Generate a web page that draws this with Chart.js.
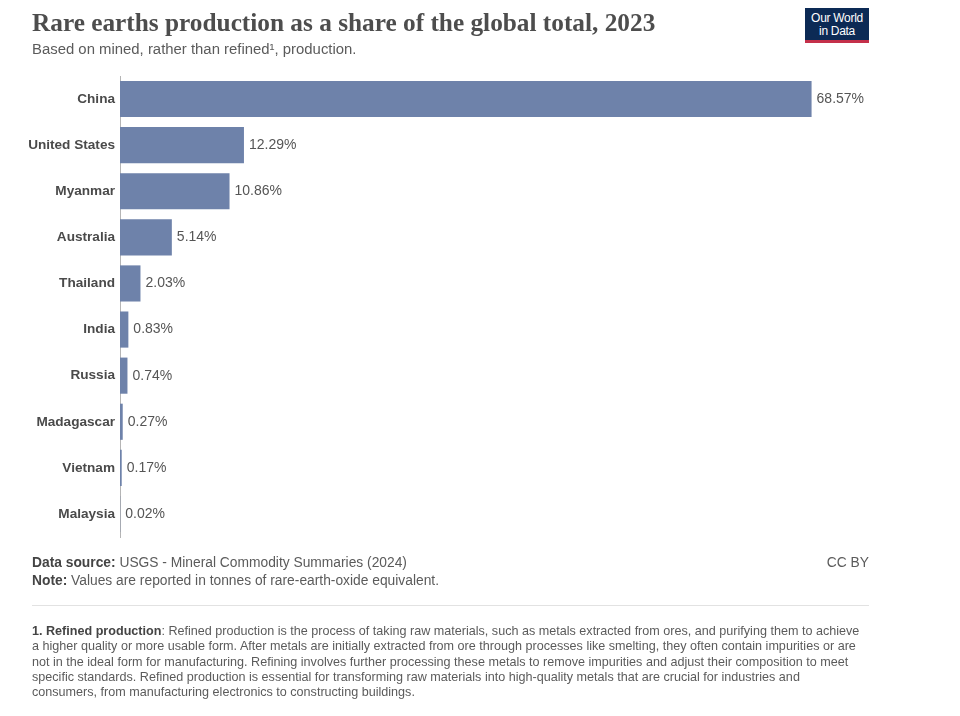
<!DOCTYPE html>
<html>
<head>
<meta charset="utf-8">
<script src="https://cdn.jsdelivr.net/npm/chart.js@4/dist/chart.umd.min.js"></script>
<style>
  html, body { margin: 0; padding: 0; background: #fff; }
  body { width: 960px; height: 716px; position: relative; overflow: hidden; font-family: "Liberation Sans", Arial, sans-serif; }
  #chartBox { position: absolute; left: 0; top: 0; width: 960px; height: 716px; }
  .abs { position: absolute; white-space: nowrap; }
  #title { left: 32px; top: 8px; font-family: "Liberation Serif", "DejaVu Serif", serif; font-weight: bold; font-size: 25.3px; color: #4d4d4d; }
  #subtitle { left: 32px; top: 41px; font-size: 14.9px; color: #5b5b5b; }
  #logo { left: 805px; top: 8px; width: 64px; height: 35px; background: #0c2a55; border-bottom: 3px solid #c4304a; color: #fff; font-size: 12px; line-height: 13px; text-align: center; padding-top: 4px; box-sizing: border-box; letter-spacing: -0.3px; }
  .foot { font-size: 13.8px; color: #5b5b5b; }
  .foot b { color: #444; }
  #rule { left: 32px; top: 605px; width: 837px; height: 1px; background: #e2e2e2; }
  #footnote { left: 32px; top: 624px; font-size: 12.6px; line-height: 15.3px; color: #5b5b5b; }
  #footnote b { color: #444; }
</style>
</head>
<body>
<div id="chartBox"><canvas id="myChart"></canvas></div>
<div class="abs" id="title">Rare earths production as a share of the global total, 2023</div>
<div class="abs" id="subtitle">Based on mined, rather than refined¹, production.</div>
<div class="abs" id="logo">Our World<br>in Data</div>
<div class="abs foot" style="left:32px;top:555px"><b>Data source:</b> USGS - Mineral Commodity Summaries (2024)</div>
<div class="abs foot" style="right:91px;top:555px">CC BY</div>
<div class="abs foot" style="left:32px;top:573px"><b>Note:</b> Values are reported in tonnes of rare-earth-oxide equivalent.</div>
<div class="abs" id="rule"></div>
<div class="abs" id="footnote"><b>1. Refined production</b>: Refined production is the process of taking raw materials, such as metals extracted from ores, and purifying them to achieve<br>a higher quality or more usable form. After metals are initially extracted from ore through processes like smelting, they often contain impurities or are<br>not in the ideal form for manufacturing. Refining involves further processing these metals to remove impurities and adjust their composition to meet<br>specific standards. Refined production is essential for transforming raw materials into high-quality metals that are crucial for industries and<br>consumers, from manufacturing electronics to constructing buildings.</div>
<script>
// countries and their share of mined rare earths (%)
const countries = ["China", "United States", "Myanmar", "Australia", "Thailand", "India", "Russia", "Madagascar", "Vietnam", "Malaysia"];
const shares = [68.57, 12.29, 10.86, 5.14, 2.03, 0.83, 0.74, 0.27, 0.17, 0.02];

//draw the % text right of each bar
const valueLabels = {
  id: "valueLabels",
  afterDatasetsDraw(chart) {
    const ctx = chart.ctx;
    const meta = chart.getDatasetMeta(0);
    ctx.save();
    ctx.font = "14px 'Liberation Sans', Arial, sans-serif";
    ctx.fillStyle = "#555";
    ctx.textAlign = "left";
    ctx.textBaseline = "middle";
    meta.data.forEach((bar, i) => {
      ctx.fillText(shares[i].toFixed(2) + "%", bar.x + 5, bar.y);
    });
    ctx.restore();
  },
};

const ctx = document.getElementById("myChart");

new Chart(ctx, {
  type: "bar",
  data: {
    labels: countries,
    datasets: [
      {
        data: shares,
        backgroundColor: "#6e82aa",
        categoryPercentage: 0.8,
        barPercentage: 0.98,
      },
    ],
  },
  options: {
    indexAxis: "y",
    responsive: true,
    maintainAspectRatio: false,
    animation: false,
    layout: { padding: { top: 76, bottom: 179, right: 134, left: 0 } },
    plugins: {
      legend: { display: false },
      tooltip: { enabled: false },
    },
    scales: {
      x: {
        display: false,
        min: 0,
        max: 70,
      },
      y: {
        afterFit(scale) {
          scale.width = 120;
        },
        grid: { display: false, drawTicks: false },
        border: { display: true, color: "#b5b5b5", width: 1 },
        ticks: {
          padding: 5,
          color: "#4a4a4a",
          font: { family: "'Liberation Sans', Arial, sans-serif", size: 13.6, weight: "bold" },
        },
      },
    },
  },
  plugins: [valueLabels],
});
</script>
</body>
</html>
